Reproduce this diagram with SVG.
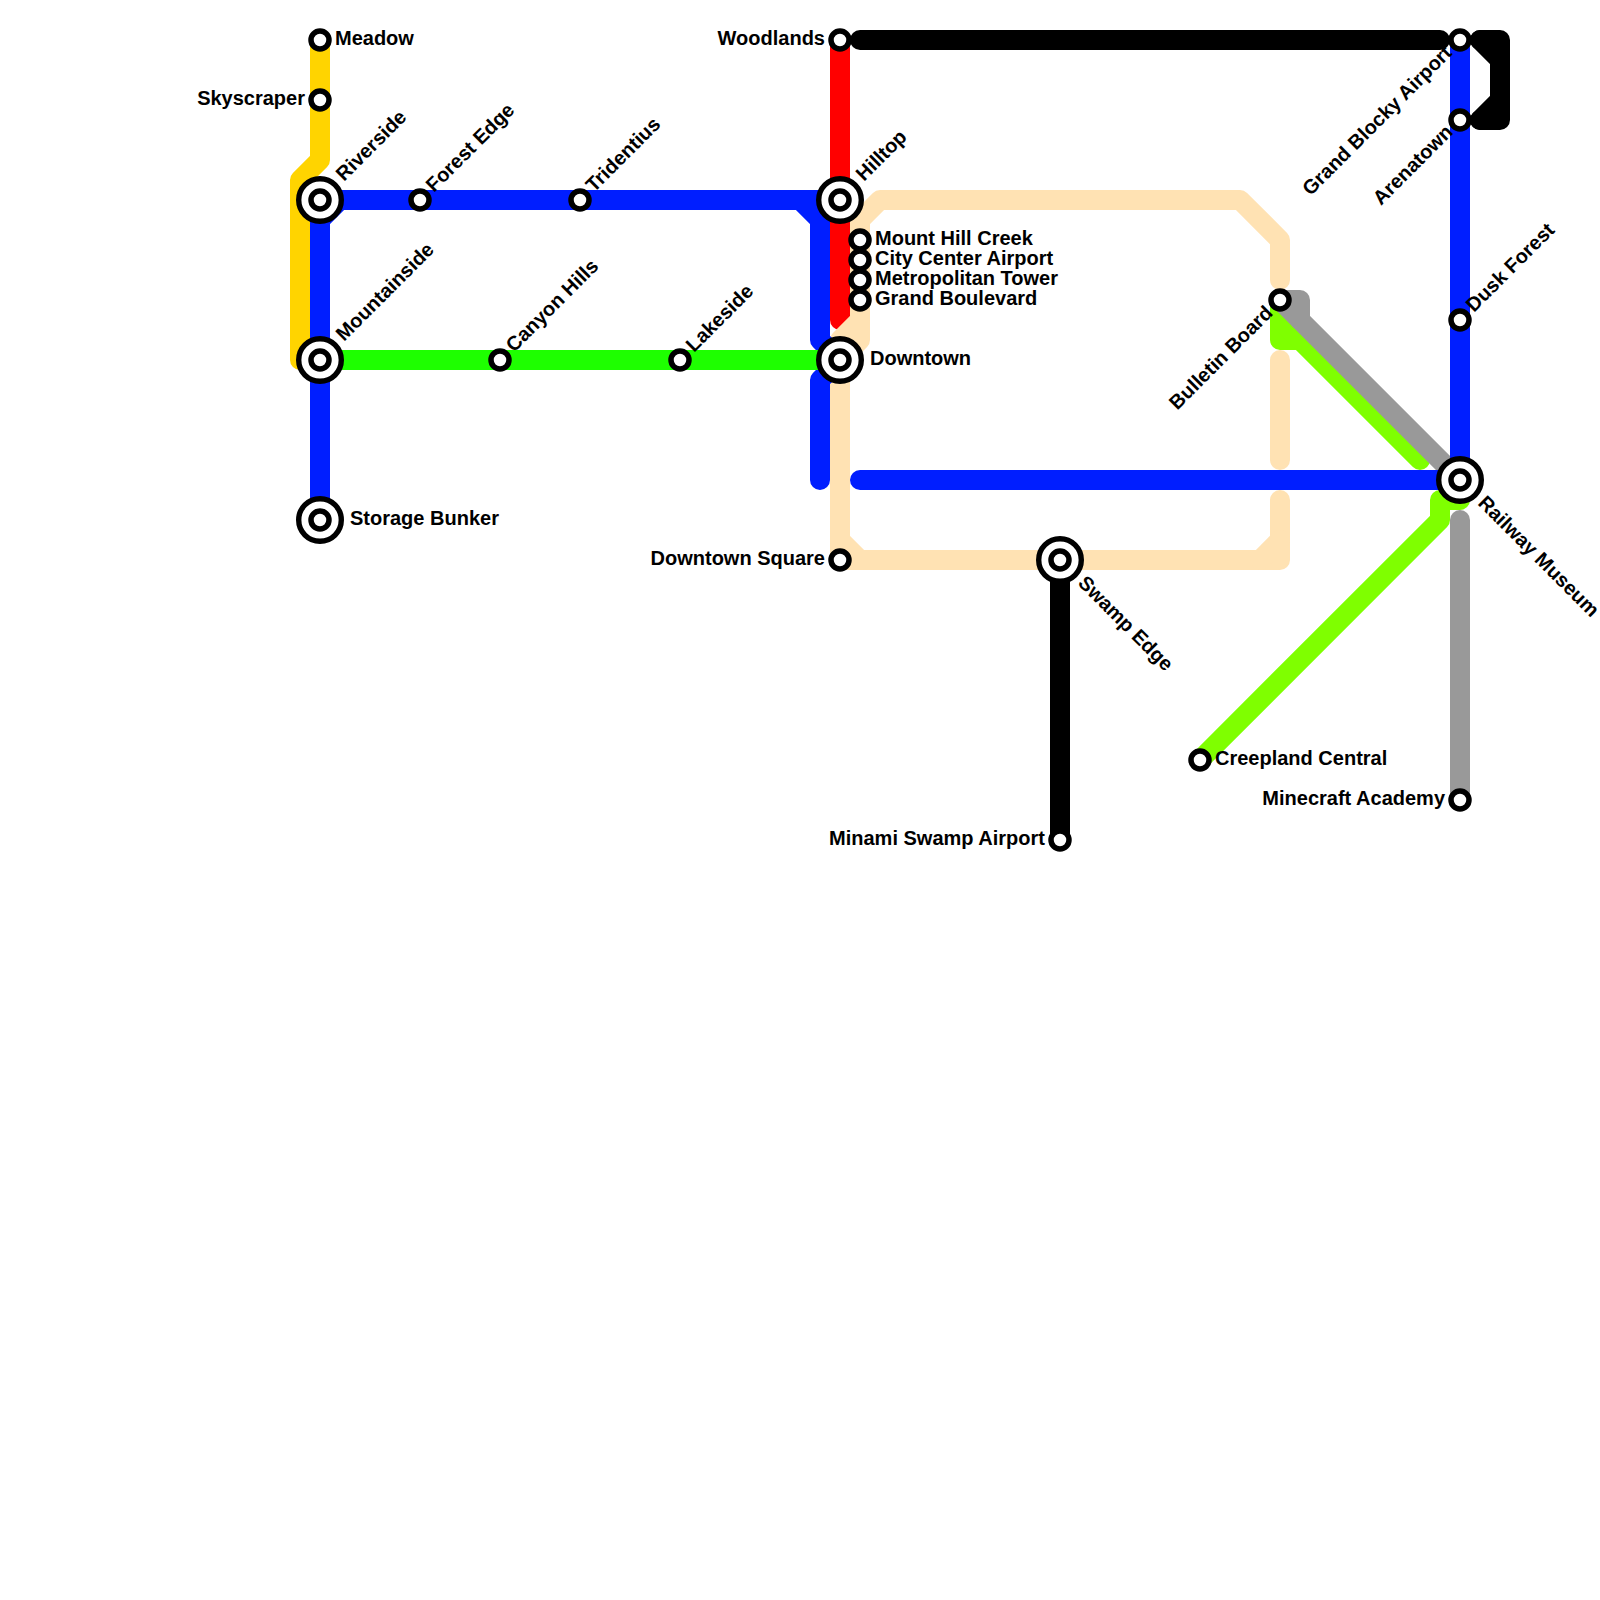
<svg xmlns="http://www.w3.org/2000/svg" width="1600" height="1600" viewBox="0 0 1600 1600">
<style>
.l{fill:none;stroke-width:20;stroke-linecap:round;stroke-linejoin:round}
.y{stroke:#ffd400}.b{stroke:#001eff}.g{stroke:#1eff00}.r{stroke:#ff0000}.w{stroke:#ffe2b3}.k{stroke:#000}.a{stroke:#999}.m{stroke:#7fff00}
.s{fill:#fff;stroke:#000;stroke-width:5.5}
.o{fill:#fff;stroke:#000;stroke-width:5.4}
text{font-family:"Liberation Sans",Arial,sans-serif;font-weight:700;font-size:20px;fill:#000}
.e{text-anchor:end}
</style>
<defs>
<g id="small"><circle class="s" r="9"/></g>
<g id="big"><circle class="o" r="21.3"/><circle class="s" r="9"/></g>
</defs>
<rect width="1600" height="1600" fill="#fff"/>
<g id="connectors">
<path class="l y" d="M320 40V160L300 180V360H320"/>
<path class="l r" d="M840 40V320"/>
<path class="l w" d="M840 360L860 340V220L880 200H1240L1280 240V280"/>
<path class="l w" d="M860 320L840 340V540L860 560"/>
<path class="l w" d="M840 360V560H1280V500"/>
<path class="l w" d="M1280 540L1260 560"/>
<path class="l w" d="M1280 360V460"/>
<path class="l m" d="M1280 300V340H1300L1420 460"/>
<path class="l m" d="M1280 320L1300 340"/>
<path class="l m" d="M1200 760L1440 520V500H1460"/>
<path class="l a" d="M1280 300H1300V320"/>
<path class="l a" d="M1280 300L1460 480"/>
<path class="l a" d="M1460 520V800"/>
<path class="l b" d="M320 520V220L340 200H800L820 220V340L840 360L820 380V480"/>
<path class="l b" d="M320 200H840"/>
<path class="l b" d="M860 480H1460"/>
<path class="l b" d="M1460 40V480"/>
<path class="l g" d="M320 360H840"/>
<path class="l k" d="M860 40H1440"/>
<path class="l k" d="M1480 40H1500V120H1480"/>
<path class="l k" d="M1480 40L1500 60V100L1480 120"/>
<path class="l k" d="M1060 560V840"/>
</g>
<g id="meadow"><use href="#small" x="320" y="40"/><text x="335" y="45">Meadow</text></g>
<g id="skyscraper"><use href="#small" x="320" y="100"/><text class="e" x="305" y="105">Skyscraper</text></g>
<g id="riverside"><use href="#big" x="320" y="200"/><text transform="translate(344 182) rotate(-45)">Riverside</text></g>
<g id="forest-edge"><use href="#small" x="420" y="200"/><text transform="translate(434 193) rotate(-45)">Forest Edge</text></g>
<g id="tridentius"><use href="#small" x="580" y="200"/><text transform="translate(594 193) rotate(-45)">Tridentius</text></g>
<g id="mountainside"><use href="#big" x="320" y="360"/><text transform="translate(344 342) rotate(-45)">Mountainside</text></g>
<g id="canyon-hills"><use href="#small" x="500" y="360"/><text transform="translate(514 353) rotate(-45)">Canyon Hills</text></g>
<g id="lakeside"><use href="#small" x="680" y="360"/><text transform="translate(694 353) rotate(-45)">Lakeside</text></g>
<g id="storage-bunker"><use href="#big" x="320" y="520"/><text x="350" y="525">Storage Bunker</text></g>
<g id="woodlands"><use href="#small" x="840" y="40"/><text class="e" x="825" y="45">Woodlands</text></g>
<g id="hilltop"><use href="#big" x="840" y="200"/><text transform="translate(864 182) rotate(-45)">Hilltop</text></g>
<g id="mount-hill-creek"><use href="#small" x="860" y="240"/><text x="875" y="245">Mount Hill Creek</text></g>
<g id="city-center-airport"><use href="#small" x="860" y="260"/><text x="875" y="265">City Center Airport</text></g>
<g id="metropolitan-tower"><use href="#small" x="860" y="280"/><text x="875" y="285">Metropolitan Tower</text></g>
<g id="grand-boulevard"><use href="#small" x="860" y="300"/><text x="875" y="305">Grand Boulevard</text></g>
<g id="downtown"><use href="#big" x="840" y="360"/><text x="870" y="365">Downtown</text></g>
<g id="downtown-square"><use href="#small" x="840" y="560"/><text class="e" x="825" y="565">Downtown Square</text></g>
<g id="swamp-edge"><use href="#big" x="1060" y="560"/><text transform="translate(1077 584) rotate(45)">Swamp Edge</text></g>
<g id="minami-swamp-airport"><use href="#small" x="1060" y="840"/><text class="e" x="1045" y="845">Minami Swamp Airport</text></g>
<g id="creepland-central"><use href="#small" x="1200" y="760"/><text x="1215" y="765">Creepland Central</text></g>
<g id="minecraft-academy"><use href="#small" x="1460" y="800"/><text class="e" x="1445" y="805">Minecraft Academy</text></g>
<g id="railway-museum"><use href="#big" x="1460" y="480"/><text transform="translate(1477 504) rotate(45)">Railway Museum</text></g>
<g id="dusk-forest"><use href="#small" x="1460" y="320"/><text transform="translate(1474 313) rotate(-45)">Dusk Forest</text></g>
<g id="arenatown"><use href="#small" x="1460" y="120"/><text class="e" transform="translate(1454 133) rotate(-45)">Arenatown</text></g>
<g id="grand-blocky-airport"><use href="#small" x="1460" y="40"/><text class="e" transform="translate(1453 54) rotate(-45)">Grand Blocky Airport</text></g>
<g id="bulletin-board"><use href="#small" x="1280" y="300"/><text class="e" transform="translate(1274 314) rotate(-45)">Bulletin Board</text></g>
</svg>
